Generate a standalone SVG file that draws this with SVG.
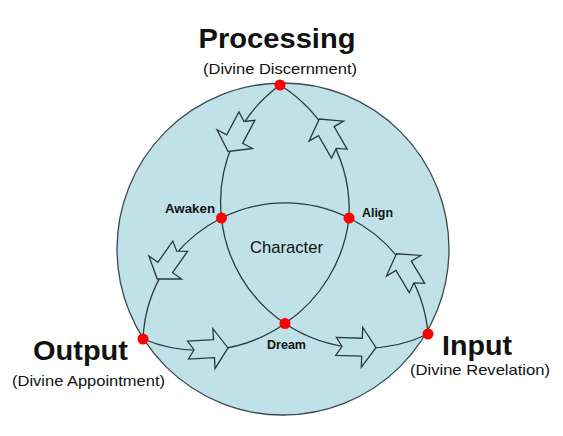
<svg xmlns="http://www.w3.org/2000/svg" xmlns:xlink="http://www.w3.org/1999/xlink" width="563" height="436" viewBox="0 0 563 436">
  <style>
    .arc { fill: none; stroke: #2b3a40; stroke-width: 1.3; }
    .arr { fill: #bfe1e7; stroke: #2b3a40; stroke-width: 1.3; stroke-linejoin: miter; }
    .dot { fill: #ff0000; }
    .big { font-family: "Liberation Sans", Arial, sans-serif; font-weight: bold; font-size: 28px; fill: #111; }
    .sub { font-family: "Liberation Sans", Arial, sans-serif; font-size: 15px; fill: #111; }
    .small { font-family: "Liberation Sans", Arial, sans-serif; font-weight: bold; font-size: 12.5px; fill: #111; }
    .mid { font-family: "Liberation Sans", Arial, sans-serif; font-size: 17px; fill: #111; }
  </style>
  <defs>
    <path id="arrow" d="M-20,-9 L6,-9 L6,-20 L20,0 L6,20 L6,9 L-20,9 L-14,0 Z"/>
  </defs>
  <rect width="563" height="436" fill="#ffffff"/>
  <circle id="sphere" cx="283" cy="249" r="166" fill="#bfe1e7" stroke="#3a4a50" stroke-width="1.3"/>

  <g id="connectors">
    <path class="arc" d="M143,339 A142,142 0 0 1 221.5,218"/>
    <path class="arc" d="M221.5,218 A142,142 0 0 1 349,218"/>
    <path class="arc" d="M349,218 A142,142 0 0 1 428,334"/>
    <path class="arc" d="M280,85 A145,145 0 0 0 221.5,218"/>
    <path class="arc" d="M221.5,218 A145,145 0 0 0 285,323.5"/>
    <path class="arc" d="M285,323.5 A145,145 0 0 0 428,334"/>
    <path class="arc" d="M280,85 A148,148 0 0 1 349,218"/>
    <path class="arc" d="M349,218 A148,148 0 0 1 285,323.5"/>
    <path class="arc" d="M285,323.5 A148,148 0 0 1 143,339"/>
    <use xlink:href="#arrow" class="arr" transform="translate(208,349) rotate(-3)"/>
    <use xlink:href="#arrow" class="arr" transform="translate(356,347) rotate(2)"/>
    <use xlink:href="#arrow" class="arr" transform="translate(406.7,270.9) rotate(-121)"/>
    <use xlink:href="#arrow" class="arr" transform="translate(329.3,136.3) rotate(-120)"/>
    <use xlink:href="#arrow" class="arr" transform="translate(237.5,133.8) rotate(118)"/>
    <use xlink:href="#arrow" class="arr" transform="translate(168.7,262.6) rotate(125)"/>
  </g>

  <g id="processing">
    <circle class="dot" cx="280" cy="85" r="5.5"/>
    <text class="big" x="277" y="48" text-anchor="middle" textLength="157" lengthAdjust="spacingAndGlyphs">Processing</text>
    <text class="sub" x="280" y="74" text-anchor="middle" textLength="154" lengthAdjust="spacingAndGlyphs">(Divine Discernment)</text>
  </g>
  <g id="output">
    <circle class="dot" cx="143" cy="339" r="5.5"/>
    <text class="big" x="80.5" y="360" text-anchor="middle" textLength="95" lengthAdjust="spacingAndGlyphs">Output</text>
    <text class="sub" x="88.5" y="386" text-anchor="middle" textLength="153" lengthAdjust="spacingAndGlyphs">(Divine Appointment)</text>
  </g>
  <g id="input">
    <circle class="dot" cx="428" cy="334" r="5.5"/>
    <text class="big" x="477" y="355" text-anchor="middle" textLength="70" lengthAdjust="spacingAndGlyphs">Input</text>
    <text class="sub" x="480" y="375" text-anchor="middle" textLength="140" lengthAdjust="spacingAndGlyphs">(Divine Revelation)</text>
  </g>
  <g id="awaken">
    <circle class="dot" cx="221.5" cy="218" r="5.5"/>
    <text class="small" x="190" y="212.5" text-anchor="middle" textLength="50" lengthAdjust="spacingAndGlyphs">Awaken</text>
  </g>
  <g id="align">
    <circle class="dot" cx="349" cy="218" r="5.5"/>
    <text class="small" x="377.5" y="216.5" text-anchor="middle" textLength="31" lengthAdjust="spacingAndGlyphs">Align</text>
  </g>
  <g id="dream">
    <circle class="dot" cx="285" cy="323.5" r="5.5"/>
    <text class="small" x="286.5" y="349" text-anchor="middle" textLength="39" lengthAdjust="spacingAndGlyphs">Dream</text>
  </g>
  <g id="character">
    <text class="mid" x="286.5" y="253" text-anchor="middle" textLength="73" lengthAdjust="spacingAndGlyphs">Character</text>
  </g>
</svg>
